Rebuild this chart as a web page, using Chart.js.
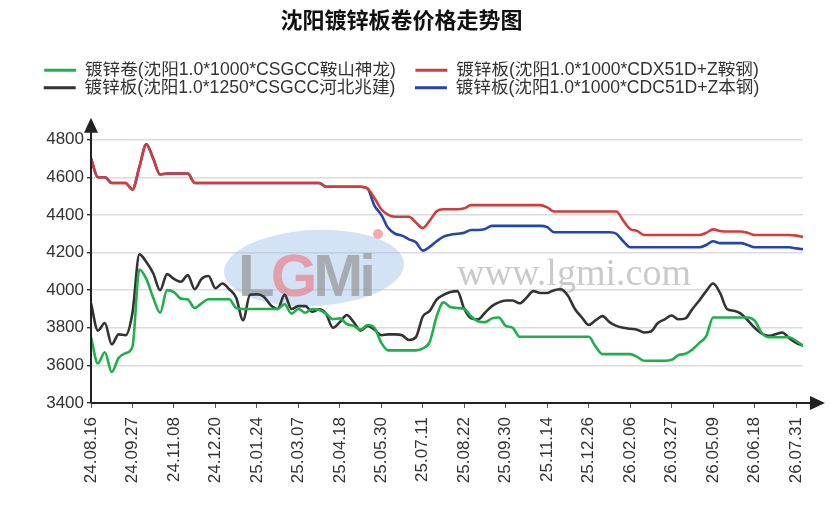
<!DOCTYPE html>
<html>
<head>
<meta charset="utf-8">
<script src="https://cdn.jsdelivr.net/npm/chart.js@4.4.1/dist/chart.umd.min.js"></script>
<style>
    html, body { margin: 0; padding: 0; background: #fff; }
    #wrap { width: 830px; height: 520px; }
</style>
</head>
<body>
<div id="wrap"><canvas id="priceChart"></canvas></div>
<script>
// labels shown on the x axis, one every 6 samples
const tickLabels = ['24.08.16', '24.09.27', '24.11.08', '24.12.20', '25.01.24', '25.03.07',
    '25.04.18', '25.05.30', '25.07.11', '25.08.22', '25.09.30', '25.11.14', '25.12.26',
    '26.02.06', '26.03.27', '26.05.09', '26.06.18', '26.07.31'];
const samplesPerLabel = 6;
const yTicks = [3400, 3600, 3800, 4000, 4200, 4400, 4600, 4800];

// 镀锌卷(沈阳1.0*1000*CSGCC鞍山神龙)
const greenSeries = [
    3750, 3610, 3670, 3565, 3640, 3665, 3700, 4110, 4060, 3960,
    3880, 4000, 3990, 3955, 3950, 3905, 3930, 3952, 3952, 3952,
    3952, 3905, 3900, 3900, 3900, 3900, 3900, 3900, 3925, 3875,
    3900, 3880, 3900, 3895, 3875, 3845, 3850, 3820, 3810, 3790,
    3815, 3800, 3720, 3680, 3680, 3680, 3680, 3680, 3690, 3725,
    3860, 3935, 3910, 3905, 3900, 3860, 3835, 3830, 3850, 3855,
    3810, 3800, 3752, 3752, 3752, 3752, 3752, 3752, 3752, 3752,
    3752, 3752, 3752, 3700, 3660, 3660, 3660, 3660, 3660, 3645,
    3625, 3625, 3625, 3625, 3630, 3655, 3662, 3685, 3720, 3755,
    3855, 3855, 3855, 3855, 3855, 3855, 3838, 3775, 3750, 3750,
    3750, 3750, 3730, 3705
];
// 镀锌板(沈阳1.0*1000*CDX51D+Z鞍钢)
const redSeries = [
    4700, 4600, 4600, 4570, 4570, 4570, 4535, 4655, 4775, 4700,
    4615, 4620, 4620, 4620, 4620, 4570, 4570, 4570, 4570, 4570,
    4570, 4570, 4570, 4570, 4570, 4570, 4570, 4570, 4570, 4570,
    4570, 4570, 4570, 4570, 4550, 4550, 4550, 4550, 4550, 4550,
    4540, 4490, 4430, 4400, 4390, 4390, 4390, 4360, 4330, 4370,
    4420, 4430, 4430, 4430, 4435, 4452, 4452, 4452, 4452, 4452,
    4452, 4452, 4452, 4452, 4452, 4452, 4440, 4418, 4418, 4418,
    4418, 4418, 4418, 4418, 4418, 4418, 4418, 4370, 4325, 4315,
    4293, 4293, 4293, 4293, 4293, 4293, 4293, 4293, 4293, 4305,
    4323, 4315, 4312, 4312, 4312, 4305, 4293, 4293, 4293, 4293,
    4293, 4293, 4290, 4283
];
// 镀锌板(沈阳1.0*1250*CSGCC河北兆建)
const blackSeries = [
    3930, 3785, 3825, 3712, 3765, 3760, 3880, 4190, 4150, 4090,
    4000, 4085, 4060, 4045, 4080, 4005, 4060, 4075, 4010, 4035,
    4005, 3960, 3840, 3975, 3978, 3965, 3920, 3900, 3975, 3900,
    3915, 3915, 3885, 3898, 3875, 3800, 3830, 3868, 3830, 3785,
    3810, 3790, 3760, 3765, 3765, 3760, 3735, 3750, 3860, 3890,
    3950, 3975, 3990, 3995, 3900, 3850, 3845, 3880, 3915, 3935,
    3945, 3945, 3930, 3960, 3995, 3985, 3985, 4000, 4005, 3970,
    3900, 3855, 3815, 3840, 3862, 3830, 3810, 3800, 3795, 3790,
    3775, 3780, 3825, 3845, 3865, 3845, 3850, 3900, 3945, 3995,
    4035, 3985, 3900, 3890, 3875, 3840, 3800, 3770, 3757, 3765,
    3775, 3745, 3720, 3705
];
// 镀锌板(沈阳1.0*1000*CDC51D+Z本钢)
const blueSeries = [
    4700, 4600, 4600, 4570, 4570, 4570, 4535, 4655, 4775, 4700,
    4615, 4620, 4620, 4620, 4620, 4570, 4570, 4570, 4570, 4570,
    4570, 4570, 4570, 4570, 4570, 4570, 4570, 4570, 4570, 4570,
    4570, 4570, 4570, 4570, 4550, 4550, 4550, 4550, 4550, 4550,
    4540, 4450, 4400, 4330, 4300, 4290, 4270, 4255, 4210, 4230,
    4260, 4285, 4295, 4300, 4305, 4320, 4320, 4325, 4342, 4342,
    4342, 4342, 4342, 4342, 4342, 4342, 4335, 4308, 4308, 4308,
    4308, 4308, 4308, 4308, 4308, 4308, 4300, 4260, 4228, 4228,
    4228, 4228, 4228, 4228, 4228, 4228, 4228, 4228, 4228, 4240,
    4260, 4250, 4250, 4250, 4250, 4240, 4228, 4228, 4228, 4228,
    4228, 4228, 4222, 4218
];

const FONT = '"Liberation Sans", Arial, "Noto Sans CJK SC", sans-serif';

function toPoints(values) {
    return values.map((v, i) => ({ x: i, y: v }));
}

// axis lines with arrow heads
const axisArrows = {
    id: 'axisArrows',
    afterDraw(chart) {
        const { ctx, chartArea: a, scales: { y } } = chart;
        const top = y.getPixelForValue(4800);
        ctx.save();
        ctx.strokeStyle = '#222';
        ctx.fillStyle = '#222';
        ctx.lineWidth = 2;
        ctx.beginPath();
        ctx.moveTo(a.left, a.bottom);
        ctx.lineTo(a.left, top - 10);
        ctx.moveTo(a.left, a.bottom);
        ctx.lineTo(a.right + 10, a.bottom);
        ctx.stroke();
        ctx.beginPath();
        ctx.moveTo(a.left, top - 22);
        ctx.lineTo(a.left - 7, top - 7);
        ctx.lineTo(a.left + 7, top - 7);
        ctx.closePath();
        ctx.fill();
        ctx.beginPath();
        ctx.moveTo(a.right + 22, a.bottom);
        ctx.lineTo(a.right + 7, a.bottom - 7);
        ctx.lineTo(a.right + 7, a.bottom + 7);
        ctx.closePath();
        ctx.fill();
        ctx.restore();
    }
};

// LGMI watermark behind the lines
const watermark = {
    id: 'watermark',
    beforeDatasetsDraw(chart) {
        const ctx = chart.ctx;
        ctx.save();
        ctx.fillStyle = 'rgba(150, 185, 230, 0.42)';
        ctx.beginPath();
        ctx.ellipse(314, 268, 90, 38, -0.05, 0, Math.PI * 2);
        ctx.fill();
        ctx.font = 'bold 60px "Liberation Sans", Arial, sans-serif';
        ctx.textBaseline = 'alphabetic';
        const letters = [['L', 'rgba(150,150,150,0.7)'], ['G', 'rgba(235,130,140,0.7)'],
            ['M', 'rgba(150,150,150,0.7)'], ['i', 'rgba(150,150,150,0.7)']];
        let x = 238;
        letters.forEach(([ch, col]) => {
            ctx.fillStyle = col;
            ctx.fillText(ch, x, 296);
            x += ctx.measureText(ch).width - 4;
        });
        ctx.fillStyle = 'rgba(240,150,160,0.8)';
        ctx.beginPath();
        ctx.arc(378, 234, 5, 0, Math.PI * 2);
        ctx.fill();
        ctx.font = '38px "Liberation Serif", "Times New Roman", serif';
        ctx.fillStyle = 'rgba(150,150,150,0.5)';
        ctx.fillText('www.lgmi.com', 457, 285);
        ctx.restore();
    }
};

function lineSet(label, values, color) {
    return {
        label: label,
        data: toPoints(values),
        borderColor: color,
        backgroundColor: color,
        borderWidth: 2.6,
        pointRadius: 0,
        fill: false,
        cubicInterpolationMode: 'monotone'
    };
}

new Chart(document.getElementById('priceChart'), {
    type: 'line',
    data: {
        datasets: [
            lineSet('镀锌卷(沈阳1.0*1000*CSGCC鞍山神龙)', greenSeries, '#1fb04d'),
            lineSet('镀锌板(沈阳1.0*1000*CDX51D+Z鞍钢)', redSeries, '#d23c3c'),
            lineSet('镀锌板(沈阳1.0*1250*CSGCC河北兆建)', blackSeries, '#333333'),
            lineSet('镀锌板(沈阳1.0*1000*CDC51D+Z本钢)', blueSeries, '#2346aa')
        ]
    },
    options: {
        responsive: true,
        maintainAspectRatio: false,
        animation: false,
        layout: { padding: { left: 0, right: 27, top: 0, bottom: 0 } },
        plugins: {
            title: {
                display: true,
                text: '沈阳镀锌板卷价格走势图',
                color: '#111',
                font: { size: 22, weight: 'bold', family: FONT },
                padding: { top: 9, bottom: 26 }
            },
            legend: {
                position: 'top',
                labels: {
                    boxWidth: 32,
                    boxHeight: 3,
                    padding: 0,
                    color: '#333',
                    font: { size: 17.6, family: FONT },
                    generateLabels(chart) {
                        const items = Chart.defaults.plugins.legend.labels.generateLabels(chart);
                        return items.map((item, k) => {
                            item.lineWidth = 0;
                            item.fillStyle = item.strokeStyle;
                            if (k % 2 === 0) item.text = item.text + '    ';
                            return item;
                        });
                    }
                }
            },
            tooltip: { enabled: false }
        },
        scales: {
            x: {
                type: 'linear',
                min: 0,
                max: greenSeries.length - 1,
                afterBuildTicks: s => { s.ticks = tickLabels.map((t, k) => ({ value: k * samplesPerLabel })); },
                afterFit: s => { s.height = 117; },
                ticks: {
                    autoSkip: false,
                    minRotation: 90,
                    maxRotation: 90,
                    padding: 9,
                    color: '#333',
                    font: { size: 17, family: FONT },
                    callback: v => tickLabels[Math.round(v / samplesPerLabel)]
                },
                grid: { drawOnChartArea: false, drawTicks: true, tickLength: 5, tickColor: '#555', tickWidth: 1 },
                border: { display: false }
            },
            y: {
                min: 3400,
                max: 4976,
                afterBuildTicks: s => { s.ticks = yTicks.map(v => ({ value: v })); },
                afterFit: s => { s.width = 91; },
                ticks: {
                    padding: 3,
                    color: '#333',
                    font: { size: 17, family: FONT },
                    callback: v => String(v)
                },
                grid: { color: '#dcdcdc', lineWidth: 1.4, tickLength: 4, tickColor: '#333' },
                border: { display: false }
            }
        }
    },
    plugins: [watermark, axisArrows]
});
</script>
</body>
</html>
